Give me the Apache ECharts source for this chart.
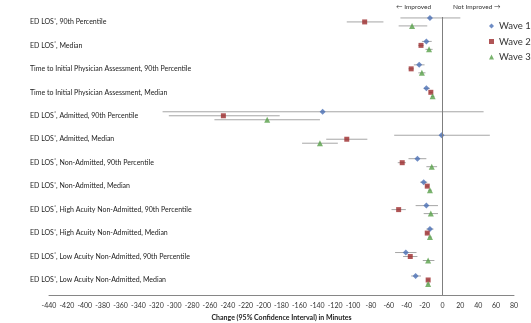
<!DOCTYPE html>
<html>
<head>
<meta charset="utf-8">
<script src="https://cdn.jsdelivr.net/npm/echarts@6/dist/echarts.min.js"></script>
<style>
  html, body { margin: 0; padding: 0; background: #fff; }
  #main { width: 531px; height: 323px; }
</style>
</head>
<body>
<div id="main"></div>
<script>
var categories = [
    "ED LOS*, 90th Percentile",
    "ED LOS*, Median",
    "Time to Initial Physician Assessment, 90th Percentile",
    "Time to Initial Physician Assessment, Median",
    "ED LOS*, Admitted, 90th Percentile",
    "ED LOS*, Admitted, Median",
    "ED LOS*, Non-Admitted, 90th Percentile",
    "ED LOS*, Non-Admitted, Median",
    "ED LOS*, High Acuity Non-Admitted, 90th Percentile",
    "ED LOS*, High Acuity Non-Admitted, Median",
    "ED LOS*, Low Acuity Non-Admitted, 90th Percentile",
    "ED LOS*, Low Acuity Non-Admitted, Median"
];

var xTicks = { min: -440, max: 80, step: 20 };

// point estimates and 95% CI, minutes
var wave1 = [-14, -18, -26, -18, -134, -1, -28, -21, -18, -14, -41, -30];
var wave1Low = [-47, -23, -32, -21, -313, -54, -38, -25, -30, -18, -53, -35];
var wave1High = [20, -12, -20, -14, 46, 53, -18, -17, -5, -10, -29, -24];

var wave2 = [-87, -24, -35, -13, -245, -107, -45, -17, -49, -17, -36, -16];
var wave2Low = [-107, -27, -38, -15, -306, -130, -50, -19, -57, -19, -44, -18];
var wave2High = [-66, -21, -32, -11, -182, -84, -41, -15, -41, -15, -28, -14];

var wave3 = [-34, -15, -23, -11, -196, -137, -12, -14, -13, -14, -16, -16];
var wave3Low = [-49, -19, -27, -13, -255, -157, -18, -16, -21, -16, -22, -18];
var wave3High = [-17, -11, -19, -9, -137, -117, -6, -12, -5, -12, -9, -14];

var waveNames = ["Wave 1", "Wave 2", "Wave 3"];

var myChart = echarts.init(document.getElementById("main"));

var font = "Lato";
var waves = [
    { name: waveNames[0], v: wave1, lo: wave1Low, hi: wave1High, color: "#4a6fb5", symbol: "diamond", size: 6, off: -0.17 },
    { name: waveNames[1], v: wave2, lo: wave2Low, hi: wave2High, color: "#9c2a2c", symbol: "rect", size: 5, off: 0 },
    { name: waveNames[2], v: wave3, lo: wave3Low, hi: wave3High, color: "#57a048", symbol: "triangle", size: 6, off: 0.17 }
];

var series = [];

waves.forEach(function(w, k) {
    // error bars
    series.push({
        type: "custom",
        name: w.name + " CI",
        silent: true,
        z: 1,
        renderItem: function(params, api) {
            var a = api.coord([api.value(0), api.value(2)]);
            var b = api.coord([api.value(1), api.value(2)]);
            return {
                type: "line",
                shape: { x1: a[0], y1: a[1], x2: b[0], y2: b[1] },
                style: { stroke: "#a6a6a6", lineWidth: 1 }
            };
        },
        encode: { x: [0, 1], y: 2 },
        data: w.lo.map(function(lo, i) {
            return [lo, w.hi[i], i + w.off];
        })
    });
});

waves.forEach(function(w, k) {
    var s = {
        type: "scatter",
        name: w.name,
        symbol: w.symbol,
        symbolSize: w.size,
        z: 3,
        itemStyle: { color: w.color },
        data: w.v.map(function(v, i) {
            return [v, i + w.off];
        })
    };
    if (k == 0) {
        // vertical line at zero change
        s.markLine = {
            silent: true,
            symbol: "none",
            label: { show: false },
            lineStyle: { color: "#7f7f7f", width: 1, type: "solid" },
            data: [{ xAxis: 0 }]
        };
    }
    series.push(s);
});

var option = {
    animation: false,
    textStyle: { fontFamily: font },
    grid: { left: 49, right: 17, top: 17, bottom: 28, outerBoundsMode: "none", containLabel: false },
    legend: {
        orient: "vertical",
        left: 489,
        top: 21,
        padding: 0,
        itemWidth: 5,
        itemHeight: 5,
        itemGap: 5.5,
        data: waveNames,
        textStyle: { fontSize: 9.5, color: "#333", fontFamily: font, overflow: "none" }
    },
    xAxis: {
        type: "value",
        min: xTicks.min,
        max: xTicks.max,
        interval: xTicks.step,
        splitLine: { show: false },
        axisTick: { show: false },
        axisLine: { onZero: false, lineStyle: { color: "#868686" } },
        axisLabel: { fontSize: 7, color: "#333", margin: 7, fontFamily: font },
        name: "Change (95% Confidence Interval) in Minutes",
        nameLocation: "middle",
        nameGap: 19,
        nameTextStyle: { fontSize: 7, fontWeight: "bold", color: "#222", fontFamily: font }
    },
    yAxis: {
        type: "value",
        inverse: true,
        min: -0.21,
        max: 11.64,
        splitLine: { show: false },
        axisTick: { show: false },
        axisLine: { show: false },
        axisLabel: {
            customValues: categories.map(function(c, i) { return i; }),
            align: "left",
            margin: 19,
            fontSize: 7,
            color: "#222",
            fontFamily: font,
            formatter: function(v) {
                var t = categories[Math.round(v)] || "";
                return t.replace("*", "{s|*}");
            },
            rich: {
                s: { fontSize: 5, verticalAlign: "top", padding: [0, 0, 4, 0], color: "#222" }
            }
        }
    },
    graphic: [
        { type: "text", left: 396, top: 3, style: { text: "\u2190 Improved", fontSize: 6.5, fill: "#333", fontFamily: font } },
        { type: "text", left: 453, top: 3, style: { text: "Not Improved \u2192", fontSize: 6.5, fill: "#333", fontFamily: font } }
    ],
    series: series
};

myChart.setOption(option);
</script>
</body>
</html>
